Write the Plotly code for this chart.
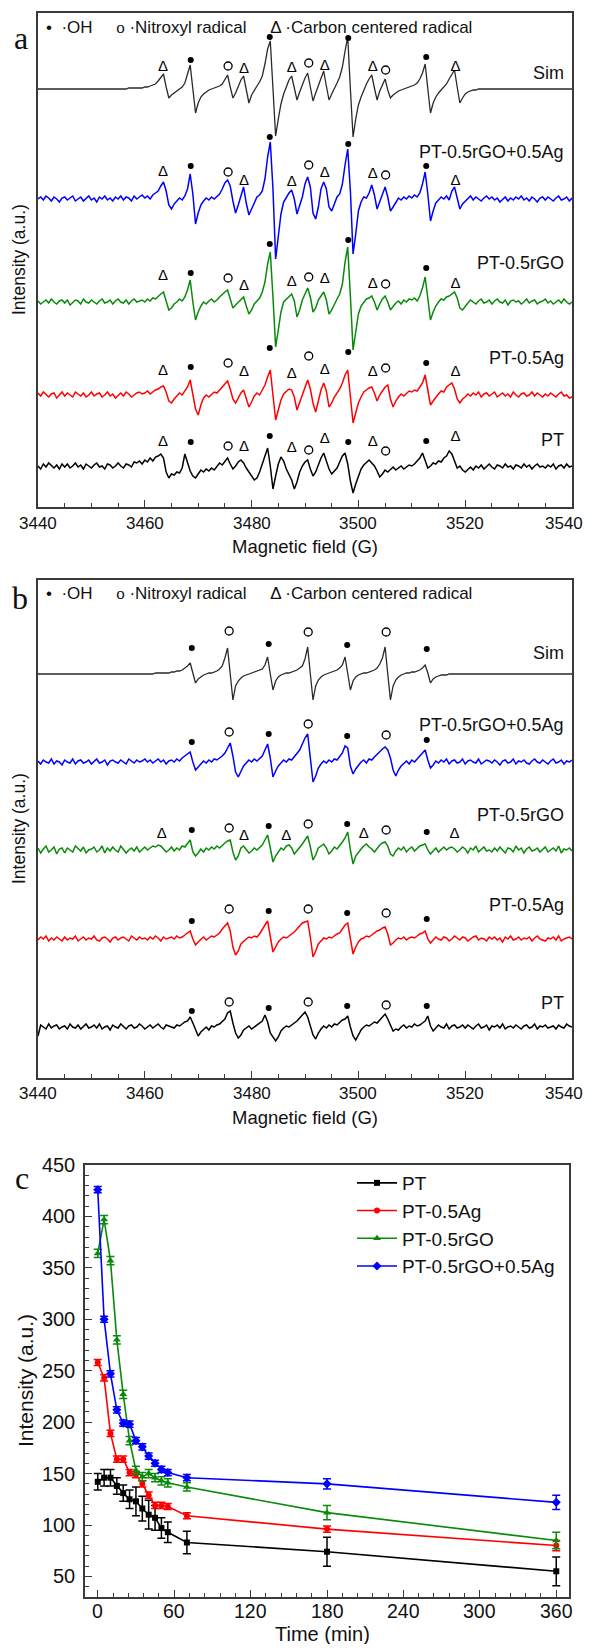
import numpy as np
import plotly.graph_objects as go

# page geometry: the html body has an 8 px margin, so the figure is drawn 8 px in from the corner
PAGE_W, PAGE_H = 594, 1652
OFF = 8
W, H = PAGE_W - 2 * OFF, PAGE_H - 2 * OFF
FIELD = 3440 + 0.5 * np.arange(201)   # magnetic field sampling (G)

# ---------------- Panel a spectra (signal above each baseline, px units) -------------
A_SIM = [
 0,0,0,0,0,0,0,0,0,0,  0,0,0,0,0,0,0,0,0,0,  0,0,0,0,0,0,0,0,0,0,
 0,0,0,0,1,1,1,1,1,1,
 2,2,3,4,5,8,12,15,2,-9,
 -6,-4,-2,0,2,6,14,24,0,-24,
 -14,-8,-5,-3,-1,0,1,2,3,5,
 9,14,2,-9,-4,3,9,13,0,-14,
 -6,-1,3,7,13,25,40,48,0,-47,
 -30,-15,-5,3,9,13,1,-11,-3,5,
 11,16,2,-12,-4,4,11,18,3,-11,
 -5,0,6,12,22,38,52,0,-48,-30,
 -16,-8,-1,5,10,14,1,-11,-2,5,
 10,-1,-9,-6,-4,-2,-1,0,1,2,
 3,4,6,10,16,25,0,-24,-14,-8,
 -4,-1,2,5,10,15,19,2,-14,-9,
 -5,-3,-2,-1,-1,0,0,0,0,0,
 0,0,0,0,0,0,0,0,0,0,  0,0,0,0,0,0,0,0,0,0,  0,0,0,0,0,0,0,0,0,0,
 0]

A_RGOAG = [
 0,2,-1,3,1,-2,2,0,-3,1,
 2,-1,1,3,-2,0,2,-2,1,3,
 -1,1,-3,2,0,3,-1,1,-2,2,
 0,3,-1,2,1,-2,3,0,2,4,
 1,3,0,4,6,8,13,17,8,-6,
 -10,-5,-2,1,-1,3,10,25,5,-25,
 -14,-6,-2,1,-1,2,0,3,5,10,
 16,19,13,-2,-14,-6,3,12,-4,-16,
 -10,-3,2,4,8,20,42,57,10,-60,
 -40,-15,-3,2,6,9,0,-15,-6,2,
 15,22,12,-14,-20,-8,10,17,10,-8,
 -12,-4,2,5,15,34,50,8,-55,-35,
 -12,-3,2,1,6,14,4,-10,-3,6,
 12,2,-12,-8,-3,1,-1,2,0,3,
 1,4,2,6,15,27,5,-22,-12,-4,
 -1,2,0,3,-1,8,12,2,-10,-5,
 -2,1,3,-1,2,0,-2,1,3,0,
 2,-1,1,-3,0,2,-2,1,-1,2,
 0,3,-1,1,-2,2,0,-3,1,2,
 -1,2,0,-2,1,3,-1,0,2,-2,
 1]

A_RGO = [
 1,-2,0,2,-1,3,0,-2,1,2,
 -1,2,-3,0,2,1,-2,3,0,-1,
 2,0,-2,1,3,-1,0,2,-2,1,
 3,0,-1,2,-2,1,3,0,1,2,
 0,3,1,4,3,6,8,10,2,-8,
 -6,-2,0,3,1,5,12,22,0,-18,
 -10,-4,0,-2,1,3,0,2,5,8,
 10,12,4,-6,-3,0,3,5,-4,-12,
 -8,-2,1,4,10,20,38,50,5,-45,
 -28,-10,0,3,6,8,1,-15,-8,2,
 8,14,5,-10,-6,2,6,10,2,-12,
 -8,-2,3,8,18,40,55,6,-48,-30,
 -12,-4,0,3,4,6,0,-8,-2,3,
 6,0,-8,-4,-1,1,-2,2,0,3,
 2,4,1,6,14,25,3,-18,-10,-4,
 0,3,2,5,6,8,10,4,-6,-8,
 -4,-1,2,0,-2,1,3,-1,0,2,
 -2,1,3,0,-1,2,-3,1,2,0,
 1,-2,0,3,-1,1,2,-2,0,1,
 3,-1,1,-2,0,2,-1,3,0,-2,
 0]

A_AG = [
 2,-1,3,0,-2,1,2,-3,0,3,
 -1,2,0,-2,3,1,-1,2,-2,0,
 3,-1,1,2,-2,0,3,-1,1,-3,
 0,2,-1,3,1,-2,0,2,3,1,
 2,4,1,3,5,6,8,9,3,-6,
 -8,-4,-1,2,0,4,8,15,2,-14,
 -20,-10,-3,0,-2,1,3,2,5,9,
 12,14,6,-4,-8,-3,2,5,-4,-12,
 -7,-1,2,0,5,10,18,25,0,-25,
 -15,-5,1,4,6,5,-2,-15,-8,0,
 8,15,6,-8,-17,-6,5,12,4,-12,
 -8,-2,2,6,12,20,25,0,-28,-18,
 -8,-2,3,5,7,8,2,-6,0,4,
 8,10,-4,-12,-6,-2,1,-1,2,4,
 3,5,4,8,12,20,5,-10,-6,-2,
 1,4,3,8,10,12,6,-4,-8,-4,
 -2,1,-1,2,0,3,-2,1,2,-1,
 1,3,-2,0,2,-1,1,-2,3,0,
 -2,1,2,-1,0,3,-1,2,0,-2,
 1,-1,2,0,-2,1,3,-1,0,-3,
 -2]

A_PT = [
 0,-3,2,-1,3,0,-2,1,-3,2,
 -1,2,-2,0,3,-1,1,-3,2,0,
 -2,1,3,-1,0,-3,2,1,-2,0,
 3,0,-2,2,1,-1,4,3,5,2,
 6,4,8,5,9,10,12,8,-6,-12,
 -8,-9,-6,-7,-2,12,4,-5,-10,-12,
 -8,-4,-6,-3,-5,-2,-4,0,3,1,
 5,8,2,-3,0,4,6,3,-2,-6,
 -10,-14,-12,-6,2,10,18,0,-23,-10,
 2,9,5,-3,-8,-14,-23,-16,-6,0,
 4,6,-3,-10,-6,2,8,13,4,-3,
 -8,-5,-2,4,10,13,2,-15,-27,-18,
 -10,-3,1,4,6,3,0,-5,-11,-8,
 -4,-6,-3,-1,-4,-2,0,-3,-1,1,
 0,2,5,8,13,6,-2,0,3,2,
 5,4,8,10,15,12,5,-2,0,-4,
 -6,-3,-1,-4,0,-2,1,-3,0,2,
 -1,-3,1,0,-2,2,-1,0,-3,1,
 0,-2,2,-1,1,-3,0,2,-1,0,
 -2,1,-1,2,-3,0,1,-2,2,-1,
 0]

# ---------------- Panel b spectra -------------
B_SIM = [
 0,0,0,0,0,0,0,0,0,0,  0,0,0,0,0,0,0,0,0,0,  0,0,0,0,0,0,0,0,0,0,  0,0,0,0,0,0,0,0,0,0,
 0,0,0,0,1,1,1,1,1,1,
 2,2,3,3,4,6,8,11,1,-9,
 -5,-3,-1,0,1,1,2,3,5,8,
 16,26,0,-26,-12,-7,-4,-2,-1,0,
 1,2,3,4,5,9,17,0,-16,-7,
 -3,-1,0,1,1,2,3,4,6,8,
 15,27,0,-26,-12,-6,-3,-1,0,1,
 2,3,4,6,9,17,0,-16,-7,-3,
 -1,0,1,1,2,3,4,6,10,16,
 27,0,-26,-12,-6,-3,-1,0,1,1,
 2,2,3,4,6,9,1,-9,-5,-3,
 -2,-1,-1,-1,0,0,0,0,0,0,
 0,0,0,0,0,0,0,0,0,0,  0,0,0,0,0,0,0,0,0,0,  0,0,0,0,0,0,0,0,0,0,  0,0,0,0,0,0,0,0,0,0,
 0]

B_RGOAG = [
 1,-2,2,0,-1,3,-2,1,0,-3,
 2,0,-1,3,-2,1,2,-1,0,2,
 -2,1,3,-1,0,2,-3,1,2,0,
 -1,2,0,-2,3,1,-1,2,0,1,
 3,0,2,-1,1,3,0,2,-2,1,
 2,0,3,1,4,6,8,10,0,-8,
 -5,-2,1,-1,2,0,3,2,4,6,
 9,14,19,6,-10,-15,-9,-4,-1,2,
 0,3,1,4,6,12,18,4,-15,-9,
 -4,-1,2,0,3,2,5,8,12,18,
 24,28,5,-20,-14,-6,-2,1,-1,2,
 0,3,2,5,9,16,14,-4,-12,-7,
 -3,0,2,-1,3,2,5,8,10,13,
 15,12,4,-8,-14,-8,-4,-1,1,-2,
 2,0,3,5,8,12,2,-6,-3,1,
 -1,2,0,3,-2,1,2,-1,0,3,
 -2,1,2,0,-1,3,-2,0,2,1,
 -1,2,0,-3,1,2,-1,0,3,-2,
 1,0,2,-1,-2,1,3,0,-1,2,
 0,-2,1,3,-1,0,2,-2,1,0,
 2]

B_RGO = [
 2,-3,1,4,-2,0,3,-4,1,2,
 -3,2,0,-2,4,1,-1,3,-3,0,
 1,3,-2,0,4,-3,2,-1,3,0,
 -2,4,1,-3,0,2,-1,3,-2,1,
 3,0,2,4,3,5,4,1,-2,0,
 3,-1,2,0,4,3,6,10,-2,-6,
 -3,1,-2,2,0,3,1,4,2,5,
 7,9,10,-2,-10,-6,2,4,1,-3,
 -1,2,0,3,5,10,15,2,-12,-6,
 -2,2,0,4,5,2,-4,-1,3,6,
 10,14,3,-10,-5,2,4,6,2,-4,
 -1,3,1,4,8,12,18,0,-14,-6,
 -2,1,4,6,3,1,-2,2,5,7,
 8,4,-4,-6,-1,2,0,3,-2,1,
 3,-1,2,4,5,6,0,-4,-1,2,
 -2,1,3,0,2,3,1,-2,0,3,
 1,-3,2,0,4,-2,1,3,-1,0,
 -2,2,-1,3,0,-3,2,1,-2,4,
 0,2,-3,1,3,-1,0,2,-2,1,
 3,-2,0,2,-1,4,-3,1,0,2,
 -1]

B_AG = [
 -1,2,0,3,-2,1,-1,2,0,-2,
 2,-1,1,0,3,-2,0,2,-1,1,
 0,3,-1,-2,1,2,0,-3,1,2,
 -1,1,2,0,-2,3,1,-1,2,0,
 1,-1,2,0,3,1,-2,2,0,1,
 2,0,3,1,2,4,6,8,0,-6,
 -3,0,2,-1,1,3,2,4,6,10,
 13,16,8,-8,-16,-12,-5,-2,0,2,
 1,3,2,5,10,14,18,2,-13,-8,
 -3,0,2,1,3,5,7,10,13,16,
 17,18,2,-18,-12,-5,-2,1,0,2,
 1,3,5,6,10,14,16,-2,-15,-8,
 -3,0,1,3,2,4,6,8,9,11,
 12,5,-6,-4,-1,1,0,2,-1,1,
 2,1,3,5,6,8,0,-4,-1,2,
 0,-1,2,1,-2,0,3,1,-1,2,
 1,-2,0,2,3,-1,1,0,-2,2,
 0,2,-1,1,-3,2,0,3,-1,0,
 2,-1,1,0,2,-2,1,3,0,-1,
 -2,1,0,2,-1,3,-2,0,1,2,
 0]

B_PT = [
 -9,2,0,-2,3,-1,1,2,-2,0,
 1,-2,3,0,-1,2,-2,1,3,-1,
 0,2,-1,3,-2,0,1,-3,2,0,
 -1,3,0,-2,1,2,-1,0,3,1,
 -2,0,2,-1,1,3,0,-2,2,1,
 0,-1,2,1,3,5,6,10,4,-3,
 -9,-5,-2,0,-3,1,0,2,3,6,
 8,14,16,4,-6,-11,-8,-3,-1,1,
 -2,0,2,4,6,12,5,-6,-10,-14,
 -10,-4,-1,1,0,2,4,6,9,12,
 15,10,0,-8,-12,-6,-2,1,-1,2,
 0,3,2,5,7,8,11,0,-9,-13,
 -8,-3,0,2,1,3,5,4,7,10,
 13,8,2,-4,-2,-3,0,2,-1,1,
 0,3,1,2,4,6,11,1,-4,-1,
 2,0,-1,3,-2,1,2,-1,0,2,
 -1,2,0,-2,1,3,-1,0,2,-3,
 1,0,2,-1,3,-2,0,1,-1,2,
 0,-2,1,2,-1,0,3,-2,1,0,
 2,-1,0,1,-2,2,0,-1,3,1,
 0]

# radical markers (field position, symbol, height above baseline)
A_MARK_B = [3463.4, 3468.6, 3475.6, 3478.6, 3483.4, 3487.5, 3490.7, 3493.7, 3498.1, 3502.7, 3505.1, 3512.7, 3518.2]
A_MARK_S = ['Δ', '•', 'o', 'Δ', '•', 'Δ', 'o', 'Δ', '•', 'Δ', 'o', '•', 'Δ']
A_MARK_H = {
    'Sim':   [22, 29, 23, 20, 52, 21, 26, 23, 51, 22, 19, 32, 22],
    'rGOAg': [27, 33, 27, 18, 62, 17, 34, 26, 55, 25, 24, 33, 18],
    'rGO':   [26, 29, 24, 16, 58, 20, 25, 23, 62, 18, 18, 34, 18],
    'Ag':    [24, 28, 32, 23, 47, 21, 39, 25, 43, 23, 27, 32, 23],
    'PT':    [24, 24, 20, 19, 30, 18, 16, 27, 24, 24, 15, 25, 29],
}
B_MARK_B = [3468.8, 3475.8, 3483.2, 3490.6, 3497.9, 3505.2, 3512.8]
B_MARK_S = ['•', 'o', '•', 'o', '•', 'o', '•']
B_MARK_H = {
    'Sim':   [26, 43, 30, 42, 29, 42, 25],
    'rGOAg': [20, 30, 28, 38, 26, 27, 22],
    'rGO':   [20, 22, 24, 26, 26, 20, 18],
    'Ag':    [18, 30, 28, 30, 26, 26, 20],
    'PT':    [16, 25, 19, 25, 21, 22, 21],
}
B_RGO_DELTA_B = [3463.2, 3478.6, 3486.5, 3501.0, 3518.0]
B_RGO_DELTA_H = [16, 14, 14, 16, 16]

TRACE_NAMES = ['Sim', 'PT-0.5rGO+0.5Ag', 'PT-0.5rGO', 'PT-0.5Ag', 'PT']
FIELD_TICKS = [3440, 3460, 3480, 3500, 3520, 3540]

# ---------------- Panel c kinetics -------------
TIME = [0, 5, 10, 15, 20, 25, 30, 35, 40, 45, 50, 55, 70, 180, 360]
C_PT = [142, 146, 146, 138, 131, 125, 123, 116, 110, 107, 97, 93, 83, 74, 55]
C_PT_ERR = [8, 8, 8, 8, 8, 9, 14, 12, 14, 12, 10, 10, 11, 14, 14]
C_AG = [258, 243, 189, 164, 164, 151, 149, 140, 129, 119, 119, 118, 109, 96, 80]
C_AG_ERR = [3, 3, 3, 3, 3, 3, 3, 3, 3, 3, 3, 3, 3, 3, 5]
C_RGO = [364, 397, 357, 280, 227, 182, 153, 147, 150, 146, 143, 141, 137, 112, 85]
C_RGO_ERR = [4, 4, 4, 4, 4, 4, 4, 4, 4, 4, 4, 4, 4, 7, 8]
C_RGOAG = [426, 300, 247, 212, 199, 198, 182, 176, 167, 160, 154, 151, 146, 140, 122]
C_RGOAG_ERR = [3, 3, 3, 3, 3, 3, 3, 3, 3, 3, 3, 3, 3, 5, 7]
TIME_TICKS = [0, 60, 120, 180, 240, 300, 360]

for arr in [A_SIM, A_RGOAG, A_RGO, A_AG, A_PT, B_SIM, B_RGOAG, B_RGO, B_AG, B_PT]:
    assert len(arr) == 201, len(arr)

# ---------------- layout constants (page pixels) -------------
FONT = 'Liberation Sans, Arial, sans-serif'
SERIF = 'Liberation Serif, Times New Roman, serif'
AX_COL = '#3a3a3a'
COLORS = {'Sim': '#2a2a2a', 'rGOAg': '#0000ff', 'rGO': '#0a8a0a', 'Ag': '#ff0000', 'PT': '#000000'}
KEYS = ['Sim', 'rGOAg', 'rGO', 'Ag', 'PT']

PA = dict(top=13, bottom=507, left=38, right=572)
PB = dict(top=580, bottom=1078, left=38, right=572)
PC = dict(top=1165, bottom=1597, left=85, right=569)
A_BASE = {'Sim': 89, 'rGOAg': 199, 'rGO': 302, 'Ag': 395, 'PT': 466}
A_LABEL = {'Sim': 73, 'rGOAg': 152, 'rGO': 263, 'Ag': 358, 'PT': 440}
B_BASE = {'Sim': 674, 'rGOAg': 762, 'rGO': 850, 'Ag': 939, 'PT': 1027}
B_LABEL = {'Sim': 653, 'rGOAg': 725, 'rGO': 815, 'Ag': 905, 'PT': 1003}

def px(x):
    return (x - OFF) / W

def py(y):
    return 1 - (y - OFF) / H

def xdom(p):
    return [px(p['left']), px(p['right'])]

def ydom(p):
    return [py(p['bottom']), py(p['top'])]

fig = go.Figure()

def add_spectrum(data, key, base, xa, ya):
    fig.add_trace(go.Scatter(x=FIELD, y=np.array(data, float) - base, mode='lines',
                             line=dict(color=COLORS[key], width=1.5 if key != 'Sim' else 1.3),
                             xaxis=xa, yaxis=ya, showlegend=False, hoverinfo='skip'))

def add_marks(fields, syms, heights, base, xa, ya):
    dx = [f for f, s in zip(fields, syms) if s == '•']
    dy = [h - base for h, s in zip(heights, syms) if s == '•']
    ox = [f for f, s in zip(fields, syms) if s == 'o']
    oy = [h - base for h, s in zip(heights, syms) if s == 'o']
    tx = [f for f, s in zip(fields, syms) if s == 'Δ']
    ty = [h - base for h, s in zip(heights, syms) if s == 'Δ']
    if dx:
        fig.add_trace(go.Scatter(x=dx, y=dy, mode='markers', marker=dict(symbol='circle', size=6, color='black'),
                                 xaxis=xa, yaxis=ya, showlegend=False, hoverinfo='skip'))
    if ox:
        fig.add_trace(go.Scatter(x=ox, y=oy, mode='markers',
                                 marker=dict(symbol='circle-open', size=8, color='black', line=dict(width=1.3)),
                                 xaxis=xa, yaxis=ya, showlegend=False, hoverinfo='skip'))
    if tx:
        fig.add_trace(go.Scatter(x=tx, y=ty, mode='text', text=['Δ'] * len(tx),
                                 textfont=dict(size=15, color='black', family=FONT), textposition='middle center',
                                 xaxis=xa, yaxis=ya, showlegend=False, hoverinfo='skip'))

A_DATA = {'Sim': A_SIM, 'rGOAg': A_RGOAG, 'rGO': A_RGO, 'Ag': A_AG, 'PT': A_PT}
B_DATA = {'Sim': B_SIM, 'rGOAg': B_RGOAG, 'rGO': B_RGO, 'Ag': B_AG, 'PT': B_PT}

for k in KEYS:
    add_spectrum(A_DATA[k], k, A_BASE[k], 'x', 'y')
    add_marks(A_MARK_B, A_MARK_S, A_MARK_H[k], A_BASE[k], 'x', 'y')
    add_spectrum(B_DATA[k], k, B_BASE[k], 'x2', 'y2')
    add_marks(B_MARK_B, B_MARK_S, B_MARK_H[k], B_BASE[k], 'x2', 'y2')
add_marks(B_RGO_DELTA_B, ['Δ'] * len(B_RGO_DELTA_B), B_RGO_DELTA_H, B_BASE['rGO'], 'x2', 'y2')

# panel c
C_SERIES = [('PT', C_PT, C_PT_ERR, 'square', 6, COLORS['PT']),
            ('PT-0.5Ag', C_AG, C_AG_ERR, 'circle', 6, COLORS['Ag']),
            ('PT-0.5rGO', C_RGO, C_RGO_ERR, 'triangle-up', 7, '#0a8a0a'),
            ('PT-0.5rGO+0.5Ag', C_RGOAG, C_RGOAG_ERR, 'diamond', 7, COLORS['rGOAg'])]
for name, y, e, sym, sz, col in C_SERIES:
    fig.add_trace(go.Scatter(x=TIME, y=y, name=name, mode='lines+markers',
                             line=dict(color=col, width=1.6),
                             marker=dict(symbol=sym, size=sz, color=col),
                             error_y=dict(type='data', array=e, visible=True, color=col, thickness=1.5, width=4),
                             xaxis='x3', yaxis='y3'))

axis_common = dict(showline=True, linecolor=AX_COL, linewidth=1.5, mirror=True, showgrid=False,
                   zeroline=False, ticks='inside', tickcolor=AX_COL, tickwidth=1.3)
minor_common = dict(ticklen=4, ticks='inside', tickcolor=AX_COL, tickwidth=1.2)

fig.update_layout(
    width=W, height=H, margin=dict(l=0, r=0, t=0, b=0, autoexpand=False),
    paper_bgcolor='white', plot_bgcolor='white',
    font=dict(family=FONT, color='#111'),
    xaxis=dict(domain=xdom(PA), range=[3440, 3540], anchor='y', tickmode='array', tickvals=FIELD_TICKS,
               showticklabels=False, ticklen=7,
               minor=dict(dtick=5, tick0=3440, **minor_common), **axis_common),
    yaxis=dict(domain=ydom(PA), range=[-PA['bottom'], -PA['top']], anchor='x', showticklabels=False,
               **{**axis_common, 'ticks': ''}),
    xaxis2=dict(domain=xdom(PB), range=[3440, 3540], anchor='y2', tickmode='array', tickvals=FIELD_TICKS,
                showticklabels=False, ticklen=7,
                minor=dict(dtick=5, tick0=3440, **minor_common), **axis_common),
    yaxis2=dict(domain=ydom(PB), range=[-PB['bottom'], -PB['top']], anchor='x2', showticklabels=False,
                **{**axis_common, 'ticks': ''}),
    xaxis3=dict(domain=xdom(PC), range=[-10, 370], anchor='y3', tickmode='array', tickvals=TIME_TICKS,
                showticklabels=False, ticklen=7,
                minor=dict(dtick=12, tick0=0, **minor_common), **axis_common),
    yaxis3=dict(domain=ydom(PC), range=[30, 450], anchor='x3', tickmode='linear', tick0=50, dtick=50,
                ticklen=7, tickfont=dict(size=20), ticklabelstandoff=4,
                minor=dict(dtick=10, **minor_common), **axis_common),
    legend=dict(x=px(352), y=py(1164), xanchor='left', yanchor='top', font=dict(size=19, family=FONT),
                bgcolor='rgba(0,0,0,0)', tracegroupgap=0, itemwidth=40),
)

ann = []
def px_ann(text, x, y, size, xanchor='center', family=FONT, angle=0):
    ann.append(dict(text=text, x=px(x), y=py(y), xref='paper', yref='paper', showarrow=False,
                    xanchor=xanchor, yanchor='middle', textangle=angle,
                    font=dict(size=size, family=family, color='#111')))

# field tick labels (last one kept inside the visible page)
for xa_name, ylab in (('x', 523), ('x2', 1093)):
    for v in FIELD_TICKS:
        last = v == FIELD_TICKS[-1]
        ann.append(dict(text=str(v), x=v, xref=xa_name, y=py(ylab), yref='paper', showarrow=False,
                        xanchor='right' if last else 'center', xshift=13 if last else 0, yanchor='middle',
                        font=dict(size=17, family=FONT, color='#111')))
# time tick labels
for v in TIME_TICKS:
    ann.append(dict(text=str(v), x=v, xref='x3', y=py(1611), yref='paper', showarrow=False,
                    xanchor='center', yanchor='middle', font=dict(size=19.5, family=FONT, color='#111')))

# panel letters
px_ann('a', 21, 38, 32, family=SERIF)
px_ann('b', 20, 598, 32, family=SERIF)
px_ann('c', 22, 1178, 32, family=SERIF)

legend_txt = ('•  ·OH     <span style="font-family:Liberation Serif">o</span> ·Nitroxyl radical'
              '     Δ ·Carbon centered radical')
px_ann(legend_txt, 44, 27, 17, xanchor='left')
px_ann(legend_txt, 44, 593, 17, xanchor='left')

# trace labels
for k, nm in zip(KEYS, TRACE_NAMES):
    px_ann(nm, 566, A_LABEL[k], 18, xanchor='right')
    px_ann(nm, 566, B_LABEL[k], 18, xanchor='right')

# axis titles
px_ann('Magnetic field (G)', 305, 546, 18.5)
px_ann('Magnetic field (G)', 305, 1117, 18.5)
px_ann('Time (min)', 322, 1634, 20)
px_ann('Intensity (a.u.)', 19, (PA['top'] + PA['bottom']) / 2, 17.5, angle=-90)
px_ann('Intensity (a.u.)', 19, (PB['top'] + PB['bottom']) / 2, 17.5, angle=-90)
px_ann('Intensity (a.u.)', 25, (PC['top'] + PC['bottom']) / 2, 21, angle=-90)

fig.update_layout(annotations=ann)
fig.write_html('out.html')
